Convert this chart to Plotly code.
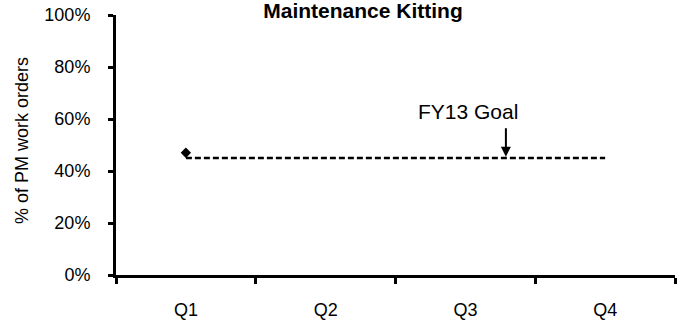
import plotly.graph_objects as go

quarters = ["Q1", "Q2", "Q3", "Q4"]
actual_quarters = ["Q1"]
actual_values = [47]
goal_values = [45, 45, 45, 45]
y_ticks = [0, 20, 40, 60, 80, 100]
y_tick_labels = ["0%", "20%", "40%", "60%", "80%", "100%"]

FONT = "Liberation Sans, Arial, sans-serif"

fig = go.Figure()
fig.add_trace(go.Scatter(
    x=quarters, y=goal_values, mode="lines",
    line=dict(color="black", width=2.5, dash="6px,3px"),
    showlegend=False, hoverinfo="skip"))
fig.add_trace(go.Scatter(
    x=actual_quarters, y=actual_values, mode="markers",
    marker=dict(symbol="diamond", size=8, color="black"),
    showlegend=False))

fig.update_layout(
    width=680, height=321,
    margin=dict(l=116, r=5, t=15, b=46),
    paper_bgcolor="white", plot_bgcolor="white",
    font=dict(family=FONT, size=18, color="black"),
    title=dict(text="<b>Maintenance Kitting</b>", x=363/680, xanchor="center",
               xref="container", y=1 - 11/321, yanchor="middle", yref="container",
               font=dict(family=FONT, size=21, color="black")),
)
fig.update_xaxes(
    type="category", categoryorder="array", categoryarray=quarters,
    range=[-0.5, 3.5], tickson="boundaries",
    ticks="outside", ticklen=6, tickwidth=2.5, tickcolor="black",
    showline=True, linewidth=3, linecolor="black",
    showgrid=False, zeroline=False, automargin=False,
    ticklabelstandoff=16,
    tickfont=dict(family=FONT, size=18, color="black"),
)
fig.update_yaxes(
    range=[0, 100], tickmode="array", tickvals=y_ticks, ticktext=y_tick_labels,
    ticks="outside", ticklen=5, tickwidth=2.5, tickcolor="black",
    showline=True, linewidth=3, linecolor="black",
    showgrid=False, zeroline=False, automargin=False,
    ticklabelstandoff=14,
    tickfont=dict(family=FONT, size=18, color="black"),
)

fig.add_annotation(
    x=(22 - 116) / 559, y=0.515, xref="paper", yref="paper",
    text="% of PM work orders", textangle=-90, showarrow=False,
    xanchor="center", yanchor="middle",
    font=dict(family=FONT, size=18, color="black"))

fig.add_annotation(
    x=2.02, y=63, xref="x", yref="y", text="FY13 Goal", showarrow=False,
    xanchor="center", yanchor="middle",
    font=dict(family=FONT, size=21, color="black"))
fig.add_annotation(
    x=2.29, y=45.5, xref="x", yref="y", text="", showarrow=True,
    ax=0, ay=-30, arrowhead=2, arrowsize=1, arrowwidth=2, arrowcolor="black")

fig.write_html("out.html", config={"displayModeBar": False},
               post_script="document.body.style.margin='0';document.body.style.padding='0';")
